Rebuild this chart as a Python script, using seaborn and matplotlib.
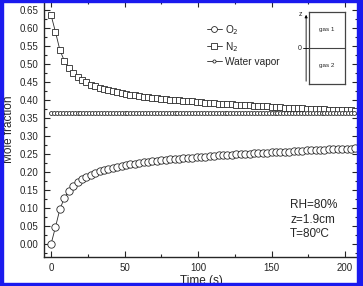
import numpy as np
import matplotlib.pyplot as plt
import matplotlib.patches as mpatches
from matplotlib.ticker import MultipleLocator
import seaborn as sns
import pandas as pd

sns.set_style("ticks")
plt.rcParams['font.family'] = ['Liberation Sans', 'DejaVu Sans']

# time (s), one point every 3 s
t_gas = list(range(0, 208, 3))
o2 = [0.000, 0.047, 0.097, 0.127, 0.147, 0.161, 0.172, 0.180, 0.187, 0.193,
      0.198, 0.202, 0.206, 0.209, 0.212, 0.215, 0.217, 0.219, 0.221, 0.223,
      0.225, 0.227, 0.228, 0.230, 0.231, 0.233, 0.234, 0.235, 0.236, 0.237,
      0.238, 0.239, 0.240, 0.241, 0.242, 0.243, 0.244, 0.245, 0.246, 0.247,
      0.247, 0.248, 0.249, 0.250, 0.250, 0.251, 0.252, 0.253, 0.253, 0.254,
      0.255, 0.255, 0.256, 0.257, 0.257, 0.258, 0.259, 0.259, 0.260, 0.260,
      0.261, 0.262, 0.262, 0.263, 0.263, 0.264, 0.264, 0.265, 0.265, 0.266]
n2 = [0.636, 0.589, 0.539, 0.509, 0.489, 0.475, 0.464, 0.456, 0.449, 0.443,
      0.438, 0.434, 0.430, 0.427, 0.424, 0.421, 0.419, 0.417, 0.415, 0.413,
      0.411, 0.409, 0.408, 0.406, 0.405, 0.403, 0.402, 0.401, 0.400, 0.399,
      0.398, 0.397, 0.396, 0.395, 0.394, 0.393, 0.392, 0.391, 0.390, 0.389,
      0.389, 0.388, 0.387, 0.386, 0.386, 0.385, 0.384, 0.383, 0.383, 0.382,
      0.381, 0.381, 0.380, 0.379, 0.379, 0.378, 0.377, 0.377, 0.376, 0.376,
      0.375, 0.374, 0.374, 0.373, 0.373, 0.372, 0.372, 0.371, 0.371, 0.370]
# water vapour, one point every 2 s
t_water = list(range(0, 208, 2))
water = [0.364] * len(t_water)

W, H = 363, 286
fig = plt.figure(figsize=(W / 100, H / 100), dpi=100)
ax = fig.add_axes([44 / W, (H - 257) / H, (358 - 44) / W, (257 - 1) / H])

ink = '#2a2a2a'
sty = dict(color=ink, lw=0.6, markerfacecolor='white',
           markeredgecolor=ink, markeredgewidth=0.6)
sns.lineplot(x=t_gas, y=o2, ax=ax, marker='o', markersize=5.3, label='O$_2$', **sty)
sns.lineplot(x=t_gas, y=n2, ax=ax, marker='s', markersize=4.8, label='N$_2$', **sty)
sns.lineplot(x=t_water, y=water, ax=ax, marker='o', markersize=2.8,
             label='Water vapor', **sty)

ax.set_xlim(-4.8, 208.8)
ax.set_ylim(-0.036, 0.675)
ax.xaxis.set_major_locator(MultipleLocator(50))
ax.xaxis.set_minor_locator(MultipleLocator(25))
ax.yaxis.set_major_locator(MultipleLocator(0.05))
ax.yaxis.set_minor_locator(MultipleLocator(0.025))
ax.yaxis.set_major_formatter(plt.FormatStrFormatter('%.2f'))
ax.tick_params(which='both', direction='in', top=True, right=True,
               labelsize=7, width=0.8, pad=4)
ax.tick_params(which='major', length=4)
ax.tick_params(which='minor', length=2)
for s in ax.spines.values():
    s.set_linewidth(1.0)
ax.set_xlabel('Time (s)', fontsize=8.5, labelpad=2)
ax.set_ylabel('Mole fraction', fontsize=8.5, labelpad=3)

leg = ax.legend(loc='upper left', bbox_to_anchor=(0.505, 0.93), frameon=False,
                fontsize=7.3, handlelength=1.5, handletextpad=0.3,
                labelspacing=0.3, borderaxespad=0, markerscale=0.8)

ax.text(0.784, 0.225, 'RH=80%\nz=1.9cm\nT=80ºC', transform=ax.transAxes,
        fontsize=8.5, va='top', ha='left', linespacing=1.25)

# inset sketch of the two gas regions
ins = fig.add_axes([309 / W, (H - 84) / H, 36 / W, 72 / H])
ins.set_xlim(0, 1)
ins.set_ylim(-1, 1)
ins.axhline(0, color='#444444', lw=0.8)
ins.set_xticks([])
ins.set_yticks([])
for s in ins.spines.values():
    s.set_color('#444444')
    s.set_linewidth(0.9)
ins.text(0.5, 0.5, 'gas 1', ha='center', va='center', fontsize=4.5)
ins.text(0.5, -0.5, 'gas 2', ha='center', va='center', fontsize=4.5)
ins.annotate('', xy=(-0.08, 1.0), xytext=(-0.08, -1.0),
             arrowprops=dict(arrowstyle='-|>', color='black', lw=0.6,
                             mutation_scale=4), annotation_clip=False)
ins.plot([-0.16, 0.0], [0, 0], color='black', lw=0.6, clip_on=False)
ins.text(-0.2, 0.92, 'z', ha='right', va='center', fontsize=5)
ins.text(-0.2, 0.0, '0', ha='right', va='center', fontsize=5)

# blue frame round the picture
blue = '#1a1aee'
for x0, y0, w, h in [(0, 0, 3, H), (357, 0, 6, H), (0, 0, W, 3), (0, H - 2, W, 2)]:
    fig.patches.append(mpatches.Rectangle((x0 / W, y0 / H), w / W, h / H,
                                          transform=fig.transFigure,
                                          color=blue, zorder=10))

fig.savefig('out.png', dpi=100)
